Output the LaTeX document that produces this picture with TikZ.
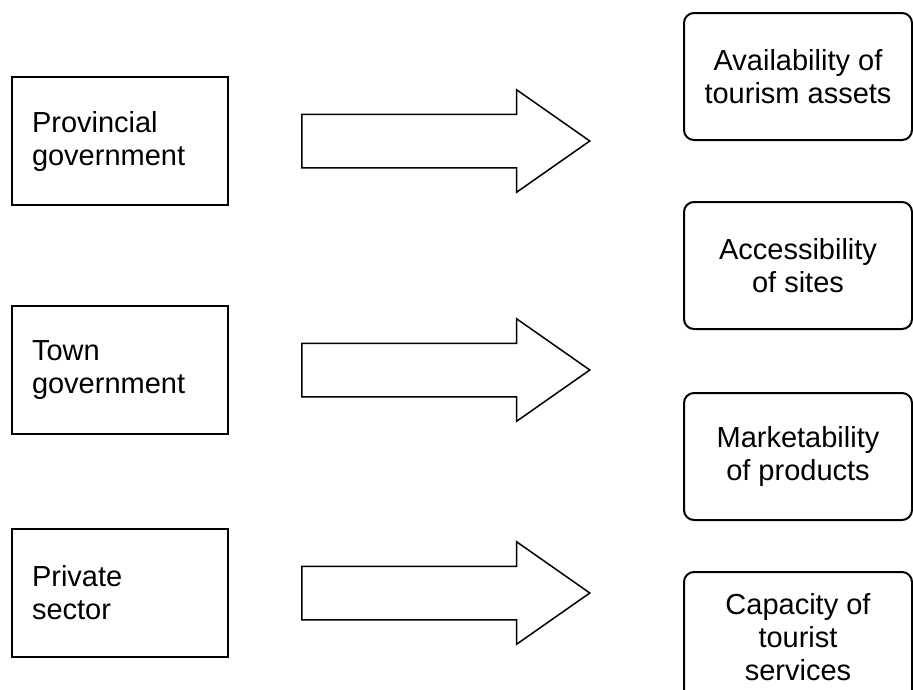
\documentclass[tikz,border=0pt]{standalone}
\usepackage{fontspec}
\setmainfont{Liberation Sans}
\usepackage{tikz}
\usetikzlibrary{shapes.arrows, positioning}
\tikzset{
  actorbox/.style={rectangle, draw=black, line width=2pt,
                   minimum width=216pt, minimum height=128pt, inner sep=0pt,
                   text width=176pt, align=left,
                   font=\fontsize{29}{33}\selectfont},
  bigarrow/.style={single arrow, draw=black, line width=1.5pt,
                   minimum height=288pt, inner xsep=0pt, inner ysep=26pt,
                   single arrow head extend=24.5pt, single arrow tip angle=70},
  outcomebox/.style={rectangle, rounded corners=10pt, draw=black, line width=2pt,
                     minimum width=228pt, minimum height=127pt, inner sep=0pt,
                     align=center, font=\fontsize{29}{33}\selectfont},
}
\begin{document}
\begin{tikzpicture}[x=1pt, y=-1pt]
    \useasboundingbox (0,0) rectangle (913,689);
    \clip (0,0) rectangle (913,689);
    % who acts
    \node[actorbox] (prov) at (120,141) {Provincial\\government};
    \node[actorbox, below=99pt of prov] (town) {Town\\government};
    \node[actorbox, below=93pt of town] (priv) {Private\\sector};
    % block arrows
    \node[bigarrow, right=72pt of prov] (provarrow) {};
    \node[bigarrow, right=72pt of town] (townarrow) {};
    \node[bigarrow, right=72pt of priv] (privarrow) {};
    % outcomes
    \node[outcomebox] (assets) at (798,76.5) {Availability of\\tourism assets};
    \node[outcomebox, below=60pt of assets] (access) {Accessibility\\of sites};
    \node[outcomebox, below=62pt of access] (market) {Marketability\\of products};
    \node[outcomebox, below=50pt of market, minimum height=130pt] (capacity) {Capacity of\\tourist\\services};
\end{tikzpicture}
\end{document}
